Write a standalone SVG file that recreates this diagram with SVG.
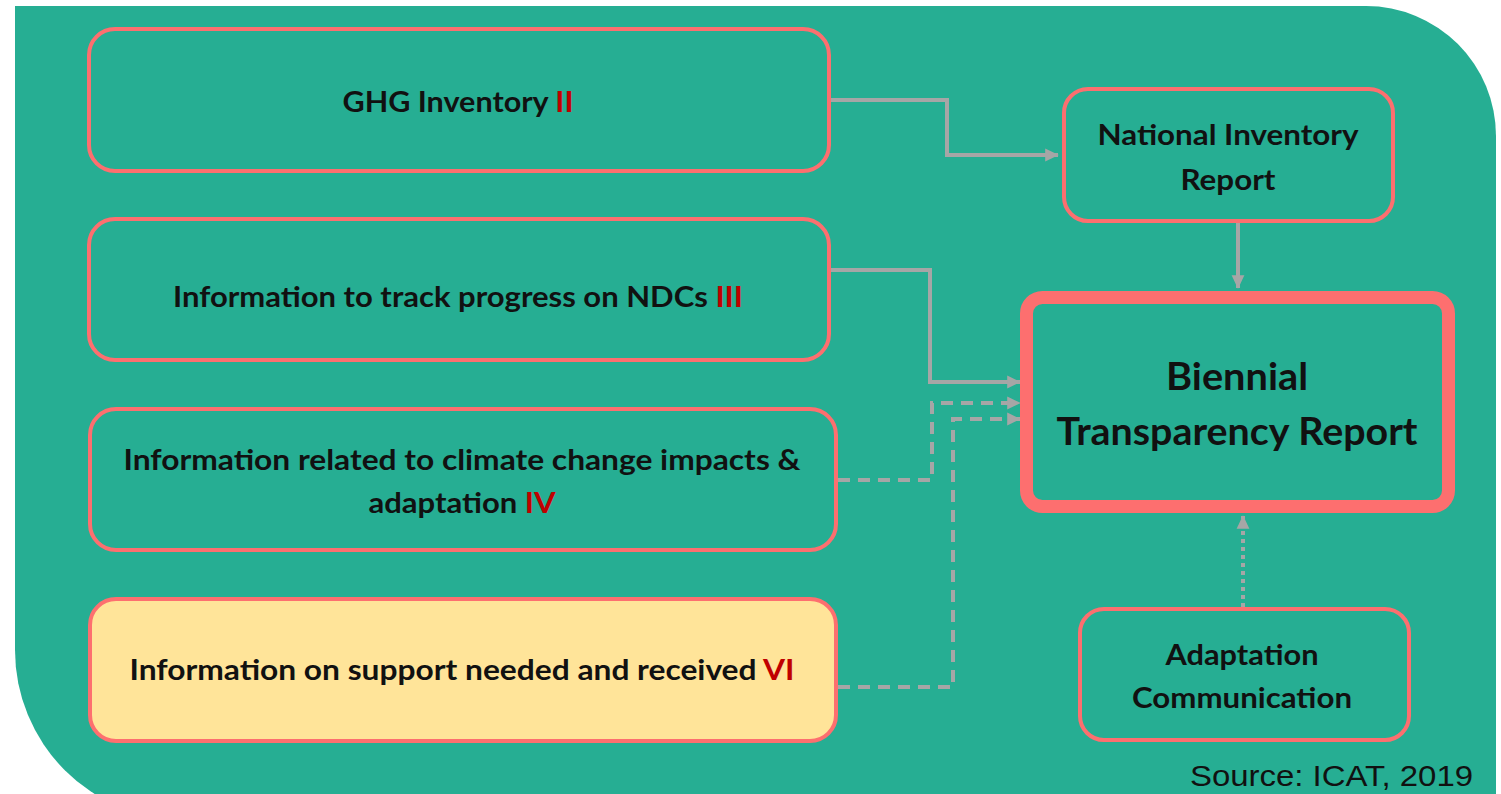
<svg xmlns="http://www.w3.org/2000/svg" width="1501" height="794" viewBox="0 0 1501 794">
<style>
.bg{fill:#26AE93}
.box{fill:none;stroke:#FD6F6F;stroke-width:4}
.yel{fill:#FFE499;stroke:#FD6F6F;stroke-width:4}
.big{fill:none;stroke:#FD6F6F;stroke-width:13}
.t{font-family:Lato,"Liberation Sans",sans-serif;font-weight:bold;fill:#111;text-anchor:middle}
.r{fill:#C00000}
.c{fill:none;stroke:#A6A6A6;stroke-width:4}
.d{stroke-dasharray:12 8}
.dot{stroke-dasharray:4 4}
.src{font-family:"Liberation Sans",sans-serif;font-size:30px;fill:#111;text-anchor:end}
</style>
<defs>
<marker id="ah" markerWidth="4" markerHeight="4" refX="3.2" refY="2" orient="auto" markerUnits="strokeWidth">
<path d="M0,0.4 L3.4,2 L0,3.6 Z" fill="#A6A6A6"/>
</marker>
</defs>
<path class="bg" d="M15,6 H1366 A130,130 0 0 1 1496,136 V820 H185 A170,170 0 0 1 15,650 Z"/>
<g id="connectors">
<path class="c" d="M831,100 H947 V155 H1058" marker-end="url(#ah)"/>
<path class="c" d="M831,270 H930 V382 H1020" marker-end="url(#ah)"/>
<path class="c d" d="M838,480 H932 V403 H1020" marker-end="url(#ah)"/>
<path class="c d" d="M838,687 H953 V419 H1020" marker-end="url(#ah)"/>
<path class="c" d="M1238,223 V288" marker-end="url(#ah)"/>
<path class="c dot" d="M1243,607 V516" marker-end="url(#ah)"/>
</g>
<g id="ghg">
<rect class="box" x="89" y="29" width="740" height="142" rx="26"/>
<text class="t" x="458" y="112" font-size="29" textLength="231" lengthAdjust="spacingAndGlyphs">GHG Inventory <tspan class="r">II</tspan></text>
</g>
<g id="ndc">
<rect class="box" x="89" y="219" width="740" height="141" rx="26"/>
<text class="t" x="458" y="307" font-size="29" textLength="570" lengthAdjust="spacingAndGlyphs">Information to track progress on NDCs <tspan class="r">III</tspan></text>
</g>
<g id="impacts">
<rect class="box" x="90" y="409" width="746" height="141" rx="26"/>
<text class="t" x="462" y="470" font-size="29" textLength="677" lengthAdjust="spacingAndGlyphs">Information related to climate change impacts &amp;</text>
<text class="t" x="462" y="513" font-size="29" textLength="187" lengthAdjust="spacingAndGlyphs">adaptation <tspan class="r">IV</tspan></text>
</g>
<g id="support">
<rect class="yel" x="90" y="599" width="746" height="142" rx="26"/>
<text class="t" x="462" y="680" font-size="29" textLength="665" lengthAdjust="spacingAndGlyphs">Information on support needed and received <tspan class="r">VI</tspan></text>
</g>
<g id="nir">
<rect class="box" x="1064" y="89" width="329" height="132" rx="24"/>
<text class="t" x="1228" y="145" font-size="29" textLength="261" lengthAdjust="spacingAndGlyphs">National Inventory</text>
<text class="t" x="1228" y="190" font-size="29" textLength="95" lengthAdjust="spacingAndGlyphs">Report</text>
</g>
<g id="btr">
<rect class="big" x="1026.5" y="297.5" width="422" height="209" rx="16"/>
<text class="t" x="1237" y="390" font-size="38" textLength="142" lengthAdjust="spacingAndGlyphs">Biennial</text>
<text class="t" x="1237" y="445" font-size="38" textLength="361" lengthAdjust="spacingAndGlyphs">Transparency Report</text>
</g>
<g id="adcom">
<rect class="box" x="1080" y="609" width="329" height="131" rx="24"/>
<text class="t" x="1242" y="665" font-size="29" textLength="153" lengthAdjust="spacingAndGlyphs">Adaptation</text>
<text class="t" x="1242" y="708" font-size="29" textLength="220" lengthAdjust="spacingAndGlyphs">Communication</text>
</g>
<text class="src" x="1473" y="786" textLength="283" lengthAdjust="spacingAndGlyphs">Source: ICAT, 2019</text>
</svg>
